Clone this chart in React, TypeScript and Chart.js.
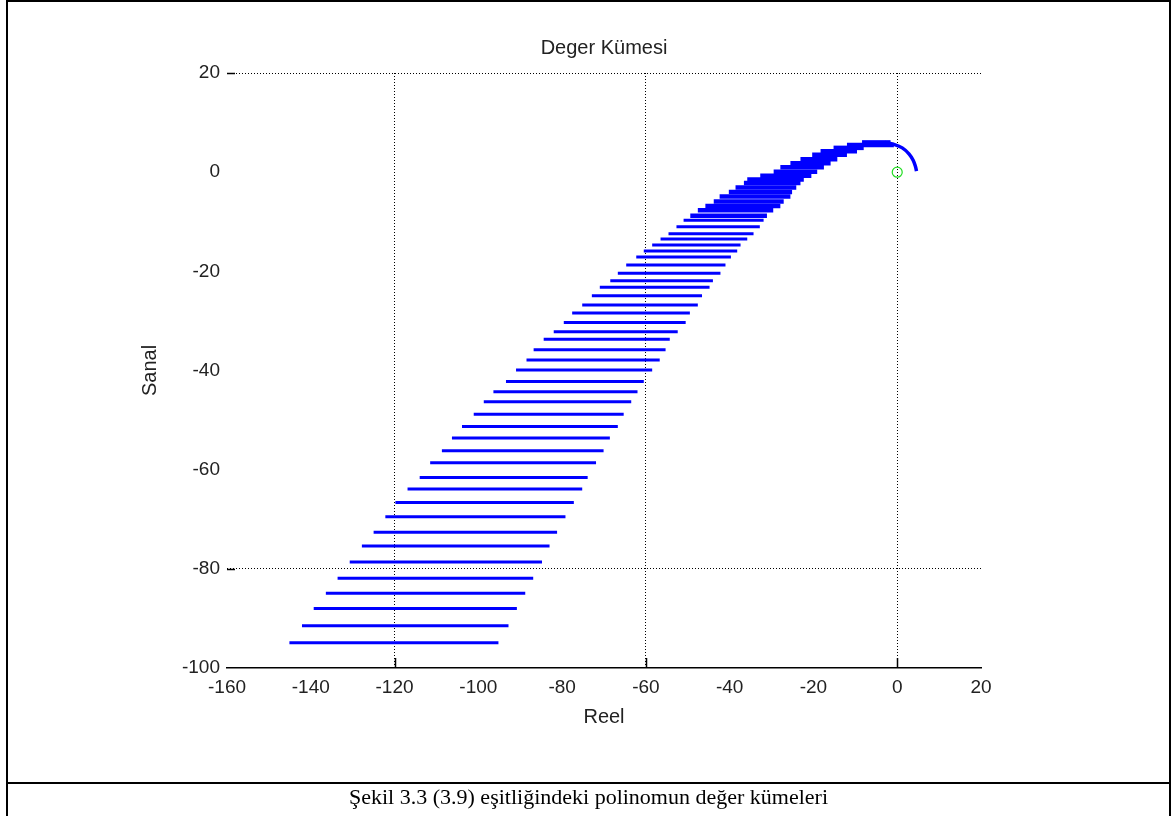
import React, { useEffect, useRef } from 'react';
import { Chart, registerables } from 'chart.js';

Chart.register(...registerables);

// ---- Data ----
// Each row of the value set is a horizontal segment at an imaginary value
const rowY = [
  -94.9, -91.5, -88.0, -84.9, -81.9, -78.6, -75.4, -72.6, -69.5, -66.6,
  -63.9, -61.6, -58.6, -56.2, -53.6, -51.3, -48.8, -46.3, -44.3, -42.2,
  -39.9, -37.9, -35.8, -33.7, -32.2, -30.3, -28.4, -26.8, -24.9, -23.2,
  -21.9, -20.4, -18.7, -17.1, -15.9, -14.7, -13.5, -12.4, -11.0, -9.7,
  -8.8, -7.7, -6.8, -5.9, -4.9, -4.0, -3.1, -2.2, -1.5, -0.7,
  0.1, 1.0, 1.8, 2.6, 3.5, 4.2, 4.9, 5.5, 6.0,
];
const rowLeft = [
  -145.1, -142.1, -139.3, -136.4, -133.6, -130.7, -127.8, -125.0, -122.2, -119.8,
  -116.9, -114.0, -111.5, -108.7, -106.3, -103.9, -101.1, -98.7, -96.4, -93.4,
  -91.0, -88.5, -86.8, -84.4, -82.0, -79.6, -77.6, -75.2, -72.9, -71.0,
  -68.5, -66.7, -64.7, -62.3, -60.5, -58.5, -56.5, -54.6, -52.7, -51.0,
  -49.4, -47.6, -45.8, -43.8, -42.4, -40.2, -38.6, -36.6, -35.8, -32.7,
  -29.5, -27.9, -25.5, -23.1, -20.3, -18.3, -15.2, -12.0, -8.4,
];
const rowRight = [
  -95.2, -92.8, -90.8, -88.8, -86.9, -84.8, -83.0, -81.2, -79.2, -77.2,
  -75.2, -73.9, -71.9, -70.1, -68.6, -66.7, -65.3, -63.5, -62.0, -60.5,
  -58.5, -56.7, -55.3, -54.3, -52.4, -50.5, -49.5, -47.6, -46.6, -44.8,
  -44.0, -42.2, -41.0, -39.7, -38.2, -37.4, -35.8, -34.3, -32.8, -31.9,
  -31.1, -29.6, -27.9, -27.1, -25.5, -25.1, -24.1, -23.1, -22.3, -20.5,
  -19.1, -17.5, -15.9, -14.3, -12.0, -9.6, -8.0, -0.8, -1.6,
];
// boundary arc near the origin
const arcX = [-3.0, -0.8, 1.2, 2.8, 3.8, 4.4, 4.6];
const arcY = [6.0, 5.6, 4.9, 3.7, 2.4, 1.0, 0.2];
// green marker at the origin
const markerX = [0];
const markerY = [0];

// axes
const xMin = -160;
const xMax = 20;
const yMin = -100;
const yMax = 20;
const tickStep = 20;
const gridX = [-120, -60, 0];
const gridY = [20, -80];

const titleText = 'Deger Kümesi';
const xLabel = 'Reel';
const yLabel = 'Sanal';
const captionText = 'Şekil 3.3 (3.9) eşitliğindeki polinomun değer kümeleri';

const SANS = '"Liberation Sans", Arial, sans-serif';
const TEXT_COLOR = '#222';

export default function App() {
  const canvasRef = useRef<HTMLCanvasElement | null>(null);

  useEffect(() => {
    const canvas = canvasRef.current;
    if (!canvas) return;

    const rowSets = rowY.map((y, i) => ({
      data: [
        { x: rowLeft[i], y },
        { x: rowRight[i], y },
      ],
      showLine: true,
      borderColor: '#0000ff',
      // rows in the dense upper band overlap into a solid blob
      borderWidth: y > -9 ? 4.5 : 3,
      pointRadius: 0,
      fill: false,
      order: 2,
    }));

    const arcSet = {
      data: arcX.map((x, i) => ({ x, y: arcY[i] })),
      showLine: true,
      borderColor: '#0000ff',
      borderWidth: 3.5,
      tension: 0.4,
      pointRadius: 0,
      fill: false,
      order: 2,
    };

    const markerSet = {
      data: markerX.map((x, i) => ({ x, y: markerY[i] })),
      showLine: false,
      pointRadius: 5,
      pointStyle: 'circle',
      pointBorderColor: '#22dd22',
      pointBackgroundColor: 'rgba(0,0,0,0)',
      pointBorderWidth: 1.2,
      order: 1,
    };

    const extrasPlugin = {
      id: 'extras',
      afterDraw(chart: any) {
        const { ctx, chartArea, scales } = chart;
        ctx.save();
        // inner tick marks at grid positions
        ctx.strokeStyle = '#000';
        ctx.lineWidth = 1.5;
        ctx.setLineDash([]);
        gridX.forEach((v) => {
          const px = Math.round(scales.x.getPixelForValue(v)) + 0.5;
          ctx.beginPath();
          ctx.moveTo(px, chartArea.bottom);
          ctx.lineTo(px, chartArea.bottom - 10);
          ctx.stroke();
        });
        gridY.forEach((v) => {
          const py = Math.round(scales.y.getPixelForValue(v)) + 0.5;
          ctx.beginPath();
          ctx.moveTo(chartArea.left, py);
          ctx.lineTo(chartArea.left + 8, py);
          ctx.stroke();
        });
        // chart title
        ctx.fillStyle = TEXT_COLOR;
        ctx.font = `20px ${SANS}`;
        ctx.textAlign = 'center';
        ctx.textBaseline = 'middle';
        ctx.fillText(titleText, (chartArea.left + chartArea.right) / 2, 48);
        ctx.restore();
      },
    };

    const chart = new Chart(canvas, {
      type: 'scatter',
      data: { datasets: [...rowSets, arcSet, markerSet] as any },
      options: {
        animation: false,
        responsive: false,
        maintainAspectRatio: false,
        layout: { padding: { left: 138, top: 73, right: 195, bottom: 51 } },
        plugins: {
          legend: { display: false },
          tooltip: { enabled: false },
          title: { display: false },
        },
        scales: {
          x: {
            type: 'linear',
            position: 'bottom',
            min: xMin,
            max: xMax,
            ticks: {
              stepSize: tickStep,
              color: TEXT_COLOR,
              font: { family: SANS, size: 19 },
              padding: 8,
              maxRotation: 0,
              autoSkip: false,
            },
            grid: {
              color: (ctx: any) =>
                ctx.tick && gridX.includes(ctx.tick.value) ? '#000' : 'rgba(0,0,0,0)',
              lineWidth: 1,
              drawTicks: false,
            },
            border: { display: true, color: '#000', width: 1.5, dash: [1, 2] },
            title: {
              display: true,
              text: xLabel,
              color: TEXT_COLOR,
              font: { family: SANS, size: 20 },
              padding: 0,
            },
            afterFit: (s: any) => {
              s.height = 61;
            },
          },
          y: {
            type: 'linear',
            position: 'left',
            min: yMin,
            max: yMax,
            ticks: {
              stepSize: tickStep,
              color: TEXT_COLOR,
              font: { family: SANS, size: 19 },
              padding: 7,
              autoSkip: false,
            },
            grid: {
              color: (ctx: any) =>
                ctx.tick && gridY.includes(ctx.tick.value) ? '#000' : 'rgba(0,0,0,0)',
              lineWidth: 1,
              drawTicks: false,
            },
            border: { display: false, dash: [1, 2] },
            title: {
              display: true,
              text: yLabel,
              color: TEXT_COLOR,
              font: { family: SANS, size: 20 },
              padding: 0,
            },
            afterFit: (s: any) => {
              s.width = 89;
            },
          },
        },
      } as any,
      plugins: [extrasPlugin],
    });

    return () => {
      chart.destroy();
    };
  }, []);

  const line = (style: React.CSSProperties) => (
    <div style={{ position: 'absolute', background: '#000', ...style }} />
  );

  return (
    <div
      style={{
        position: 'fixed',
        left: 0,
        top: 0,
        width: 1176,
        height: 816,
        background: '#fff',
        overflow: 'hidden',
      }}
    >
      <canvas
        ref={canvasRef}
        width={1176}
        height={780}
        style={{ position: 'absolute', left: 0, top: 0, width: 1176, height: 780 }}
      />
      {line({ left: 6, top: 0, width: 1165, height: 2 })}
      {line({ left: 6, top: 0, width: 2, height: 816 })}
      {line({ left: 1169, top: 0, width: 2, height: 816 })}
      {line({ left: 6, top: 782, width: 1165, height: 2 })}
      <div
        style={{
          position: 'absolute',
          left: 8,
          width: 1161,
          top: 786,
          textAlign: 'center',
          fontFamily: '"Liberation Serif", "Times New Roman", serif',
          fontSize: 22,
          lineHeight: '22px',
          color: '#000',
        }}
      >
        {captionText}
      </div>
    </div>
  );
}
